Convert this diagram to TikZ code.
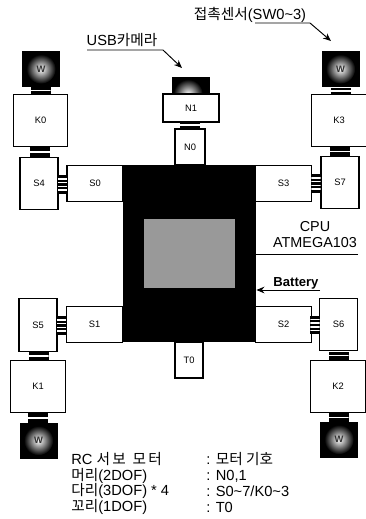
\documentclass[tikz,border=0pt]{standalone}
\usepackage{fontspec}
\setmainfont{Liberation Sans}
\newfontfamily\krfont{Noto Sans CJK KR}
\usetikzlibrary{arrows.meta,positioning}

\begin{document}
\begin{tikzpicture}[
    x=0.75pt, y=-0.75pt,
    % --- STYLES ---
    part/.style={
        rectangle, draw=black, fill=white, line width=0.8pt,
        inner sep=0pt, font=\fontsize{7}{8}\selectfont
    },
    knee/.style={part, minimum width=41pt, minimum height=39.5pt},
    servo/.style={part, minimum width=28.5pt, minimum height=39.5pt},
    link/.style={part, minimum width=42pt, minimum height=26.5pt},
    wheel/.style={rectangle, fill=black, inner sep=0pt, minimum width=28.5pt, minimum height=27pt},
    hub/.style={circle, inner sep=0pt, minimum size=22pt, inner color=white, outer color=black,
        text=black!80, font=\bfseries\fontsize{7}{7}\selectfont},
    jointv/.style={rectangle, fill=black, inner sep=0pt, minimum width=15pt, minimum height=7.5pt,
        path picture={\fill[white] ([yshift=-0.6pt]path picture bounding box.west) rectangle +(15pt,1.3pt);}},
    jointh/.style={rectangle, fill=black, inner sep=0pt, minimum width=7pt, minimum height=14pt,
        path picture={\foreach \yy in {-4.2,-1.4,1.4,4.2}
            \fill[white] ([yshift=\yy pt-0.5pt]path picture bounding box.west) rectangle +(7pt,1pt);}},
    label/.style={inner sep=0pt, font=\fontsize{11}{12}\selectfont},
    cpulabel/.style={inner sep=0pt, align=center, font=\fontsize{10.8}{12}\selectfont},
    legend/.style={inner sep=0pt, anchor=west, font=\fontsize{11}{12}\selectfont},
    pointer/.style={-{Stealth[length=6pt,width=5pt]}, line width=0.7pt}
]
\useasboundingbox (0,0) rectangle (366,519);

% ===== 1. BODY =====
\node[part, minimum width=22.5pt, minimum height=27pt] (N0) at (190,147) {N0};
\node[part, minimum width=21pt, minimum height=27pt] (T0) at (189,360) {T0};
\node[rectangle, fill=black, inner sep=0pt, minimum width=100pt, minimum height=133pt] (body) at (189.5,253.5) {};
\node[rectangle, fill=black!40, inner sep=0pt, minimum width=68pt, minimum height=52pt] (cpu) at (189.5,253.5) {};

% ===== 2. HEAD =====
\node[rectangle, fill=black, inner sep=0pt, minimum width=28.5pt, minimum height=14pt] (cam) at (191,86) {};
\node[hub] (lens) at (188,94) {};
\node[part, minimum width=42pt, minimum height=21pt] (N1) at (191,108) {N1};
\node[jointv, minimum height=4.5pt] (jn) at (190,125) {};

% ===== 3. FRONT LEFT LEG =====
\node[link] (S0) at (95,183.5) {S0};
\node[servo] (S4) at (39,183.5) {S4};
\node[knee] (K0) at (40.5,120.5) {K0};
\node[wheel] (W0) at (41,69) {};
\node[hub] (h0) at (W0) {W};
\node[jointh] (j4) at (62.5,184.5) {};
\node[jointv] (a0) at (40,152) {};
\node[jointv, minimum height=5pt] (b0) at (40.5,90.5) {};

% ===== 4. FRONT RIGHT LEG =====
\node[link] (S3) at (283.5,183.5) {S3};
\node[servo] (S7) at (340,182.5) {S7};
\node[knee] (K3) at (339,120.5) {K3};
\node[wheel] (W3) at (340.5,69) {};
\node[hub] (h3) at (W3) {W};
\node[jointh] (j7) at (316,183.5) {};
\node[jointv] (a3) at (340,151.5) {};
\node[jointv, minimum height=5pt] (b3) at (341,91) {};

% ===== 5. REAR LEFT LEG =====
\node[link] (S1) at (94.5,324.5) {S1};
\node[servo] (S5) at (38,325) {S5};
\node[knee] (K1) at (38,386.5) {K1};
\node[wheel] (W1) at (38.5,440.5) {};
\node[hub] (h1) at (W1) {W};
\node[jointh] (j5) at (61.5,325.5) {};
\node[jointv, minimum height=6pt] (a1) at (38.5,356) {};
\node[jointv] (b1) at (38,418) {};

% ===== 6. REAR RIGHT LEG =====
\node[link] (S2) at (283.5,324.5) {S2};
\node[servo] (S6) at (338.5,324.5) {S6};
\node[knee] (K2) at (338,386.5) {K2};
\node[wheel] (W2) at (339,439.5) {};
\node[hub] (h2) at (W2) {W};
\node[jointh] (j6) at (315,325) {};
\node[jointv, minimum height=6pt] (a2) at (338.5,355.5) {};
\node[jointv] (b2) at (338.5,417.5) {};

% ===== 7. LABELS =====
\node[label] (usb) at (122,40) {USB{\krfont 카메라}};
\node[label] (sw) at (250,15) {{\krfont 접촉센서}(SW0\textasciitilde3)};
\node[cpulabel] (mcu) at (315,235) {CPU\\ ATMEGA103};
\node[cpulabel, font=\bfseries\fontsize{9.8}{12}\selectfont] (bat) at (296,283) {Battery};

\coordinate (usbs) at (87,50);
\coordinate (usbm) at (163,50);
\coordinate (usbe) at (182,68);
\coordinate (sws) at (255,23);
\coordinate (swm) at (310,23);
\coordinate (swe) at (331,41);
\coordinate (mcul) at (358,254);
\coordinate (batl) at (320,290);

\draw[pointer] (usbs) -- (usbm) -- (usbe);
\draw[pointer] (sws) -- (swm) -- (swe);
\draw[line width=0.7pt] (mcul) -- (mcul -| body.east);
\draw[pointer] (batl) -- (batl -| body.east);

% ===== 8. LEGEND =====
\node[legend] (l1) at (71,459) {RC {\krfont 서\,보\ \ 모\,터}};
\node[legend] (l2) at (71,476) {{\krfont 머리}(2DOF)};
\node[legend] (l3) at (71,491) {{\krfont 다리}(3DOF) * 4};
\node[legend] (l4) at (71,507) {{\krfont 꼬리}(1DOF)};
\node[legend] (r1) at (206,459) {: {\krfont 모터 기호}};
\node[legend] (r2) at (206,476) {: N0,1};
\node[legend] (r3) at (206,491) {: S0\textasciitilde7/K0\textasciitilde3};
\node[legend] (r4) at (206,507) {: T0};

\end{tikzpicture}
\end{document}
